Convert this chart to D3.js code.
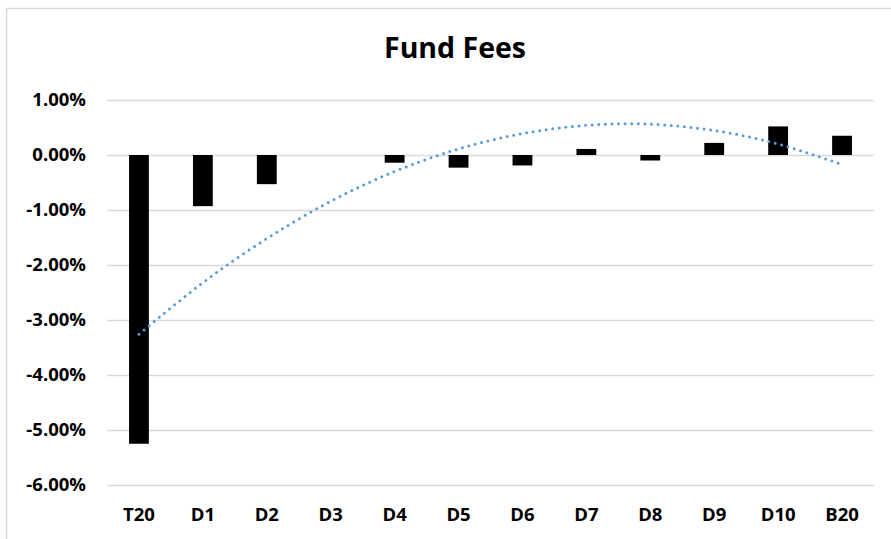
<!DOCTYPE html>
<html>
<head>
<meta charset="utf-8">
<script src="https://cdn.jsdelivr.net/npm/d3@7"></script>
<style>
  body { margin: 0; background: #fff; }
  #vis { width: 891px; height: 539px; }
  .axis text { font-family: "Open Sans", sans-serif; font-weight: bold; font-size: 18.5px; fill: #000; }
</style>
</head>
<body>
<div id="vis"></div>
<script>
var categories = ['T20', 'D1', 'D2', 'D3', 'D4', 'D5', 'D6', 'D7', 'D8', 'D9', 'D10', 'B20'];
// fee difference, in percent
var fee_values = [-5.25, -0.93, -0.53, 0, -0.14, -0.23, -0.19, 0.11, -0.10, 0.22, 0.52, 0.35];
// dotted trend line at each category
var trend_values = [-3.26, -2.32, -1.52, -0.84, -0.30, 0.11, 0.39, 0.54, 0.56, 0.445, 0.20, -0.175];
var y_ticks = [1, 0, -1, -2, -3, -4, -5, -6];

var width = 891, height = 539;

var margin = { top: 100, bottom: 54, left: 107, right: 16 };

var svg = d3.select('#vis')
    .append('svg')
    .attr('width', width)
    .attr('height', height);

// chart area border
svg.append('rect')
    .attr('x', 6.5)
    .attr('y', 8.5)
    .attr('width', 1000)
    .attr('height', 1000)
    .attr('fill', 'none')
    .attr('stroke', '#d9d9d9')
    .attr('stroke-width', 1.5);

svg.append('text')
    .attr('x', 455)
    .attr('y', 58)
    .attr('text-anchor', 'middle')
    .style('font-family', '"Open Sans", sans-serif')
    .style('font-weight', 'bold')
    .style('font-size', '28.5px')
    .text('Fund Fees');

var x_scale = d3.scaleBand()
    .domain(categories)
    .range([margin.left, width - margin.right - 1])
    .paddingInner(0.69)
    .paddingOuter(0.345);

var y_scale = d3.scaleLinear()
    .domain([-6, 1])
    .range([height - margin.bottom, margin.top]);

var grid_width = x_scale.range()[1] - x_scale.range()[0];

var y_axis = d3.axisLeft(y_scale)
    .tickValues(y_ticks)
    .tickSizeInner(-grid_width)
    .tickSizeOuter(0)
    .tickPadding(21)
    .tickFormat(function(d) { return d.toFixed(2) + '%'; });

var gy = svg.append('g')
    .attr('class', 'y axis')
    .attr('transform', 'translate(' + margin.left + ',0)')
    .call(y_axis);
gy.select('.domain').remove();
gy.selectAll('line')
    .attr('stroke', '#d9d9d9')
    .attr('stroke-width', 1.5);

var x_axis = d3.axisBottom(x_scale)
    .tickSize(0)
    .tickPadding(23);

var gx = svg.append('g')
    .attr('class', 'x axis')
    .attr('transform', 'translate(0,' + (height - margin.bottom) + ')')
    .call(x_axis);
gx.select('.domain').remove();

svg.selectAll('.bar')
    .data(fee_values)
    .enter()
    .append('rect')
    .attr('class', 'bar')
    .attr('x', function(d, i) { return x_scale(categories[i]); })
    .attr('width', x_scale.bandwidth())
    .attr('y', function(d) { return y_scale(Math.max(d, 0)); })
    .attr('height', function(d) { return Math.abs(y_scale(d) - y_scale(0)); })
    .attr('fill', '#000');

var trend_line = d3.line()
    .x(function(d, i) { return x_scale(categories[i]) + x_scale.bandwidth() / 2; })
    .y(function(d) { return y_scale(d); })
    .curve(d3.curveNatural);

svg.append('path')
    .datum(trend_values)
    .attr('d', trend_line)
    .attr('fill', 'none')
    .attr('stroke', '#5b9bd5')
    .attr('stroke-width', 3)
    .attr('stroke-linecap', 'round')
    .attr('stroke-dasharray', '0 6.6');
</script>
</body>
</html>
